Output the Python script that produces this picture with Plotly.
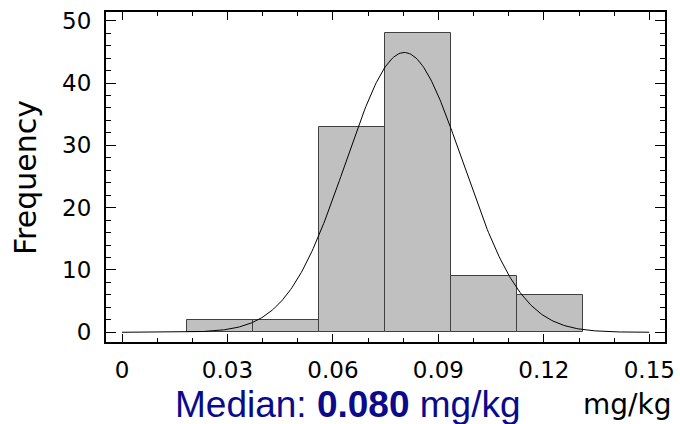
import numpy as np
import plotly.graph_objects as go

# ---- data ----
bin_edges = [0.01857, 0.03734, 0.05612, 0.07489, 0.09367, 0.11244, 0.13121]
counts = [2, 2, 33, 48, 9, 6]
fit_mean = 0.0803      # fitted normal curve parameters
fit_sd = 0.01668
x_ticks = [0, 0.03, 0.06, 0.09, 0.12, 0.15]
x_tick_labels = ["0", "0.03", "0.06", "0.09", "0.12", "0.15"]
y_ticks = [0, 10, 20, 30, 40, 50]
y_tick_labels = ["0", "10", "20", "30", "40", "50"]
median_text = "Median: <b>0.080</b> mg/kg"
unit_text = "mg/kg"
y_title = "Frequency"

# ---- derived ----
centers = [(a + b) / 2 for a, b in zip(bin_edges[:-1], bin_edges[1:])]
widths = [b - a for a, b in zip(bin_edges[:-1], bin_edges[1:])]
n_total = sum(counts)
bw = float(np.mean(widths))
xs = np.linspace(0, 0.15, 401)
ys = n_total * bw * np.exp(-0.5 * ((xs - fit_mean) / fit_sd) ** 2) / (fit_sd * np.sqrt(2 * np.pi))

fig = go.Figure()
fig.add_trace(go.Bar(
    x=centers, y=counts, width=widths,
    marker=dict(color="#c0c0c0", line=dict(color="#404040", width=1)),
    hoverinfo="skip",
))
fig.add_trace(go.Scatter(
    x=xs, y=ys, mode="lines",
    line=dict(color="black", width=1),
    hoverinfo="skip",
))

L, R, T, B = 106, 15, 12, 82
W, H = 680, 424
pw, ph = W - L - R, H - T - B

def px_to_paper_x(px):
    return (px - L) / pw

def py_to_paper_y(py):
    return (T + ph - py) / ph

tickfont = dict(family="DejaVu Sans", size=23, color="black")

fig.update_layout(
    width=W, height=H,
    margin=dict(l=L, r=R, t=T, b=B, pad=0),
    paper_bgcolor="white", plot_bgcolor="white",
    showlegend=False, bargap=0,
    xaxis=dict(
        range=[-0.00455, 0.15446], automargin=False,
        tickmode="array", tickvals=x_ticks, ticktext=x_tick_labels,
        ticks="inside", ticklen=8, tickwidth=1, tickcolor="black",
        showline=True, linewidth=2, linecolor="black", mirror="allticks",
        showgrid=False, zeroline=False, tickfont=tickfont,
        ticklabelstandoff=6,
        minor=dict(tick0=0, dtick=0.01, ticks="inside", ticklen=4,
                   tickwidth=1, tickcolor="black", showgrid=False),
    ),
    yaxis=dict(
        range=[-1.56, 51.4], automargin=False,
        tickmode="array", tickvals=y_ticks, ticktext=y_tick_labels,
        ticks="inside", ticklen=10, tickwidth=1, tickcolor="black",
        showline=True, linewidth=2, linecolor="black", mirror="allticks",
        showgrid=False, zeroline=False, tickfont=tickfont,
        ticklabelstandoff=8,
        minor=dict(tick0=0, dtick=2, ticks="inside", ticklen=5,
                   tickwidth=1, tickcolor="black", showgrid=False),
    ),
    annotations=[
        dict(text=y_title, textangle=-90, xref="paper", yref="paper",
             x=px_to_paper_x(25), y=py_to_paper_y(178),
             xanchor="center", yanchor="middle", showarrow=False,
             font=dict(family="DejaVu Sans", size=30, color="black")),
        dict(text=median_text, xref="paper", yref="paper",
             x=px_to_paper_x(348), y=py_to_paper_y(404),
             xanchor="center", yanchor="middle", showarrow=False,
             font=dict(family="Liberation Sans", size=37, color="#0a0a8a")),
        dict(text=unit_text, xref="paper", yref="paper",
             x=px_to_paper_x(673), y=py_to_paper_y(404),
             xanchor="right", yanchor="middle", showarrow=False,
             font=dict(family="DejaVu Sans", size=28, color="black")),
    ],
)

fig.write_html("out.html")
